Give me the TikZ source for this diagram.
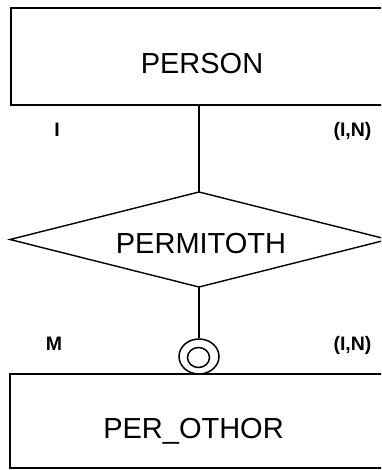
\documentclass[tikz,border=0pt]{standalone}
\usepackage{fontspec}
\setmainfont{Liberation Sans}
\usetikzlibrary{shapes.geometric}
\tikzset{
  entity/.style={draw, line width=1.4pt, rectangle, inner sep=0pt},
  bigtxt/.style={font=\fontsize{29}{32}\selectfont, anchor=base, inner sep=0pt},
  card/.style={font=\bfseries\fontsize{19.5}{22}\selectfont, anchor=base, inner sep=0pt},
  conn/.style={line width=1.4pt},
  ring/.style={draw, ellipse, line width=1.5pt, inner sep=0pt}
}
\begin{document}
\begin{tikzpicture}[x=1pt,y=-1pt]
\clip (0,0) rectangle (381,470);
\fill[white] (0,0) rectangle (381,470);
% entity boxes (right edge lies outside the picture)
\node[entity, minimum width=384pt, minimum height=97pt] (person) at (203,56.5) {};
\node[entity, minimum width=385pt, minimum height=94pt] (other) at (202.5,421) {};
% relationship diamond
\coordinate (dleft) at (10,239.5);
\coordinate (dtop) at (199,192);
\coordinate (dright) at (388,239.5);
\coordinate (dbot) at (199,287);
\draw[conn, line join=miter] (dleft) -- (dtop) -- (dright) -- (dbot) -- cycle;
% texts
\node[bigtxt] (tperson) at (202,74) {PERSON};
\node[bigtxt] (trel) at (201,253) {PERMITOTH};
\node[bigtxt] (tother) at (193.5,438) {PER\_OTHOR};
% cardinality labels
\node[card] (c1) at (57,136.5) {I};
\node[card] (c2) at (352.5,136.5) {(I,N)};
\node[card] (c3) at (54,350.5) {M};
\node[card] (c4) at (352.5,350.5) {(I,N)};
% optional-participation ring
\node[ring, minimum width=40pt, minimum height=35pt] (ring) at (199,356.5) {};
\node[ring, minimum width=22pt, minimum height=20pt] (ringin) at (198.5,357.5) {};
% connectors
\draw[conn] (dtop) -- (dtop |- person.south);
\draw[conn] (dbot) -- (ring.north);
\end{tikzpicture}
\end{document}
